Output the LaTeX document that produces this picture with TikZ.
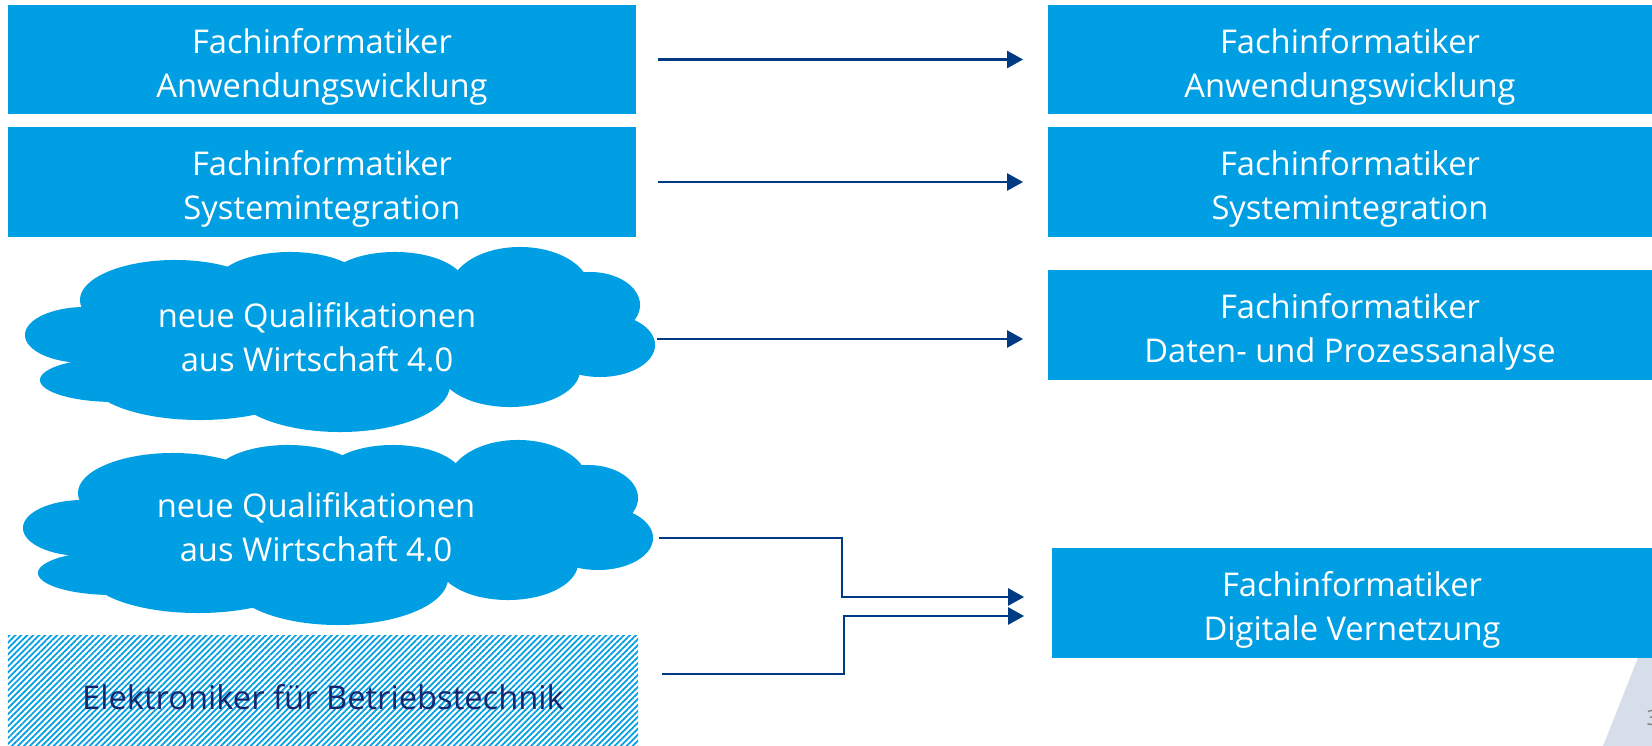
\documentclass[tikz,border=0pt]{standalone}
\usepackage{fontspec}
\setmainfont{Open Sans}
\usetikzlibrary{arrows.meta,patterns.meta}
\definecolor{boxblue}{RGB}{0,159,227}
\definecolor{arrowblue}{RGB}{0,58,130}
\definecolor{darknavy}{RGB}{22,38,108}
\definecolor{slidegrey}{RGB}{214,222,234}
% cloud made of overlapping ellipses round a centre coordinate
\newcommand{\cloudblob}[1]{%
  \foreach \dx/\dy/\rx/\ry in {-254/-3/6/2.8, -224/42/7.5/2.2, -164/-38/9.5/4,
      -49/-53/7.5/3.3, 56/-53/7/3.3, 181/-48/7/4.3, 251/-33/5/3.3, 261/7/5.5/3.2,
      171/32/7/3.7, 1/47/11/4.7, -139/42/11/4, 0/-3/25/6}
    \fill[boxblue] ([shift={(\dx,\dy)}]#1) ellipse [x radius=\rx mm, y radius=\ry mm];
}
\begin{document}
\begin{tikzpicture}[line cap=butt,line join=miter,x=0.01cm,y=-0.01cm,
  bluebox/.style={fill=boxblue,text=white,align=center,inner sep=0pt,
    minimum height=1.09cm,font=\fontsize{9.3}{12.5}\selectfont,text height=8.3mm},
  leftbox/.style={bluebox,minimum width=6.28cm},
  rightbox/.style={bluebox,minimum width=6.04cm},
  cloudtext/.style={text=white,align=center,inner sep=0pt,
    font=\fontsize{9.3}{12.5}\selectfont},
  arr/.style={draw=arrowblue,line width=0.7pt,-{Triangle[length=0.16cm,width=0.17cm]}}]
\useasboundingbox (0,0) rectangle (1652,746);

% slide corner
\fill[slidegrey] (1641,650) -- (1603,746) -- (1652,746) -- (1652,650) -- cycle;
\node[anchor=west,text=gray,inner sep=0pt,font=\fontsize{6}{7}\selectfont] (pg) at (1646,718) {3};

% left column
\node[leftbox] (L1) at (322,59.5) {Fachinformatiker\\Anwendungswicklung};
\node[leftbox] (L2) at (322,182) {Fachinformatiker\\Systemintegration};

\coordinate (q1c) at (339,338);
\coordinate (q2c) at (337,531);
\cloudblob{q1c}
\cloudblob{q2c}
\node[cloudtext] (Q1) at (317,337) {neue Qualifikationen\\aus Wirtschaft 4.0};
\node[cloudtext] (Q2) at (316,527) {neue Qualifikationen\\aus Wirtschaft 4.0};

\node[pattern={Lines[angle=45,distance=1.2pt,line width=0.5pt]},pattern color=boxblue,
  minimum width=6.3cm,minimum height=1.1cm,inner sep=0pt] (E) at (323,691) {};
\node[text=darknavy,font=\fontsize{9.3}{12}\selectfont] (Et) at (323,697) {Elektroniker für Betriebstechnik};

% right column
\node[rightbox] (R1) at (1350,59.5) {Fachinformatiker\\Anwendungswicklung};
\node[rightbox] (R2) at (1350,182) {Fachinformatiker\\Systemintegration};
\node[rightbox] (R3) at (1350,325) {Fachinformatiker\\Daten- und Prozessanalyse};
\node[rightbox,minimum width=6.0cm] (R4) at (1352,603) {Fachinformatiker\\Digitale Vernetzung};

% arrows
\draw[arr,shorten <=0.21cm,shorten >=0.24cm] (L1.east) -- (L1.east -| R1.west);
\draw[arr,shorten <=0.21cm,shorten >=0.24cm] (L2.east) -- (L2.east -| R2.west);

\coordinate (s3) at (657,339);
\draw[arr,shorten >=0.24cm] (s3) -- (s3 -| R3.west);

\coordinate (s4) at (659,538);
\coordinate (k4) at (842,597);
\coordinate (s5) at (662,674);
\coordinate (k5) at (844,616);
\draw[arr,shorten >=0.27cm] (s4) -| (k4) -- (k4 -| R4.west);
\draw[arr,shorten >=0.27cm] (s5) -| (k5) -- (k5 -| R4.west);
\end{tikzpicture}
\end{document}
